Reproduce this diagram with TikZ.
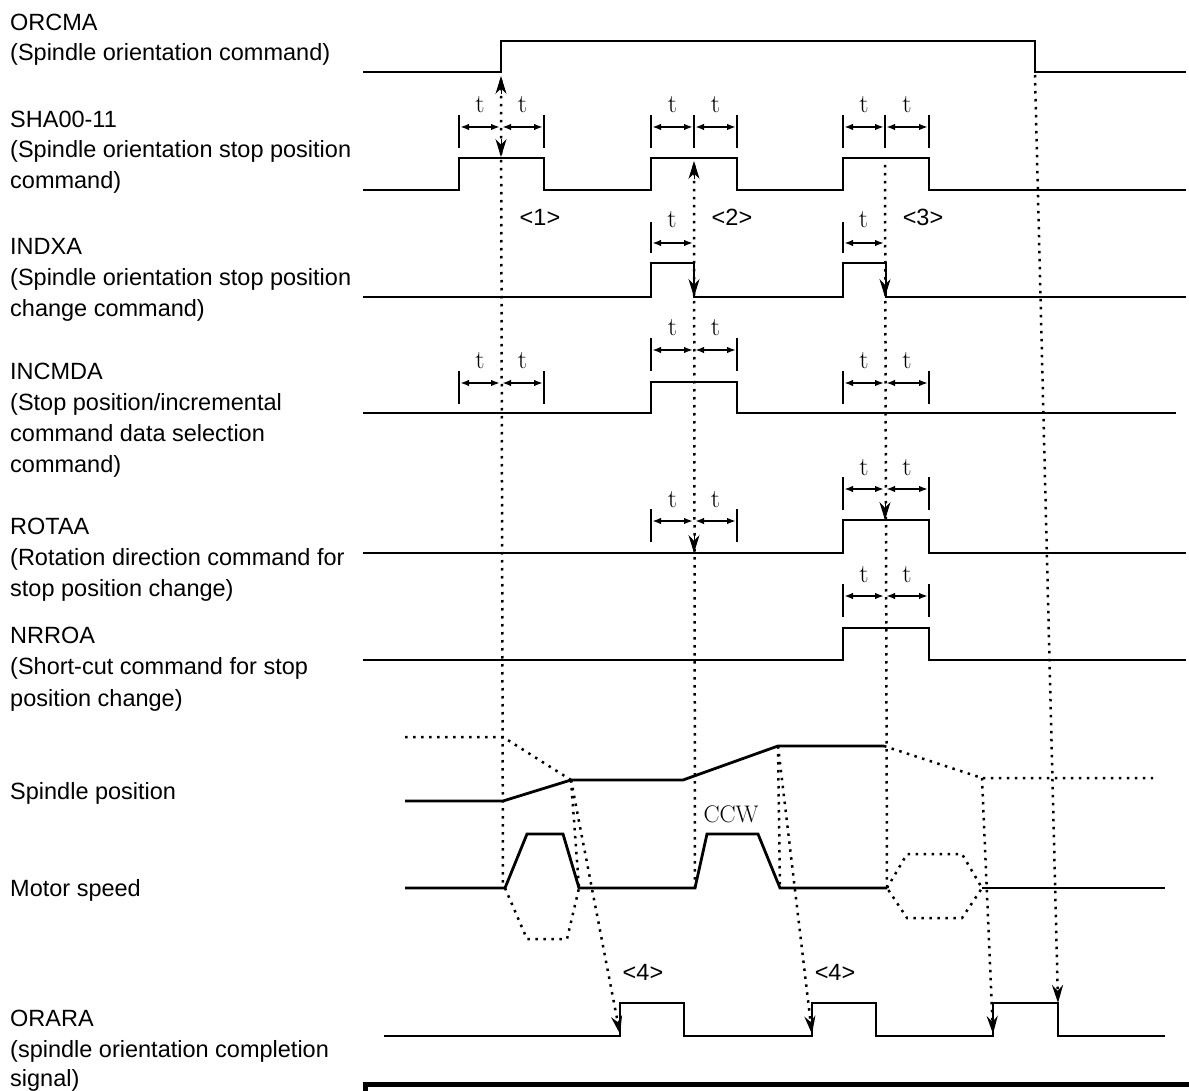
\documentclass[tikz,border=0pt]{standalone}
\usepackage{fontspec}
\newfontfamily\labfont{Liberation Sans}
\usetikzlibrary{arrows.meta}
\newcommand\tpair[6]{% left, mid, right, arrow y, midtick, name
  \draw[tickln] (#1,#4-12) -- (#1,#4+21);
  \draw[tickln] (#3,#4-12) -- (#3,#4+21);
  \ifnum#5=1 \draw[tickln] (#2,#4-12) -- (#2,#4+21);\fi
  \draw[dimarr] (#1+1,#4) -- (#2-1,#4);
  \draw[dimarr] (#2+1,#4) -- (#3-1,#4);
  \node[tlab] (#6a) at ({(#1+#2)/2},#4-14) {t};
  \node[tlab] (#6b) at ({(#2+#3)/2},#4-14) {t};
}
\newcommand\tsingle[4]{% left, right, arrow y, name
  \draw[tickln] (#1,#3-21) -- (#1,#3+10);
  \draw[dimarr] (#1+1,#3) -- (#2,#3);
  \node[tlab] (#4) at ({(#1+#2)/2},#3-15) {t};
}
\newcommand\tipdown[3]{\draw[tipd] (#1,#2-18) -- (#1,#2);}
\newcommand\tipup[2]{\draw[tipd] (#1,#2+18) -- (#1,#2);}
\begin{document}
\begin{tikzpicture}[x=1pt,y=-1pt,
  sig/.style={line width=2.8pt, line join=miter, line cap=butt},
  dots/.style={line width=2.5pt, dash pattern=on 2.5pt off 5.5pt},
  tickln/.style={line width=2.8pt},
  dimarr/.style={line width=2pt, {Latex[length=9pt,width=6.5pt]}-{Latex[length=9pt,width=6.5pt]}},
  tipd/.style={line width=1pt, -{Stealth[length=18pt,width=11pt]}},
  arrend/.style={-{Stealth[length=18pt,width=11pt]}},
  lab/.style={font=\labfont\fontsize{23.5}{28}\selectfont, anchor=base west, inner sep=0pt},
  tlab/.style={font=\fontsize{26}{26}\selectfont, anchor=base, inner sep=0pt},
  num/.style={font=\labfont\fontsize{23.5}{28}\selectfont, anchor=base, inner sep=0pt},
  ccw/.style={font=\fontsize{24}{24}\selectfont, anchor=base, inner sep=0pt},
]
\useasboundingbox (0,0) rectangle (1189,1091);

% ---------- labels ----------
\node[lab] (l1a) at (10,31) {ORCMA};
\node[lab] (l1b) at (10,61) {(Spindle orientation command)};
\node[lab] (l2a) at (10,127.5) {SHA00-11};
\node[lab] (l2b) at (10,158) {(Spindle orientation stop position};
\node[lab] (l2c) at (10,188.5) {command)};
\node[lab] (l3a) at (10,255) {INDXA};
\node[lab] (l3b) at (10,286) {(Spindle orientation stop position};
\node[lab] (l3c) at (10,317) {change command)};
\node[lab] (l4a) at (10,379) {INCMDA};
\node[lab] (l4b) at (10,410) {(Stop position/incremental};
\node[lab] (l4c) at (10,441) {command data selection};
\node[lab] (l4d) at (10,472) {command)};
\node[lab] (l5a) at (10,534) {ROTAA};
\node[lab] (l5b) at (10,565) {(Rotation direction command for};
\node[lab] (l5c) at (10,596) {stop position change)};
\node[lab] (l6a) at (10,643) {NRROA};
\node[lab] (l6b) at (10,674) {(Short-cut command for stop};
\node[lab] (l6c) at (10,706) {position change)};
\node[lab] (l7) at (10,799) {Spindle position};
\node[lab] (l8) at (10,896) {Motor speed};
\node[lab] (l9a) at (10,1026) {ORARA};
\node[lab] (l9b) at (10,1057) {(spindle orientation completion};
\node[lab] (l9c) at (10,1086) {signal)};

% ---------- signals ----------
\draw[sig] (363,72) -- (501,72) -- (501,41) -- (1035,41) -- (1035,72) -- (1186,72);
\draw[sig] (363,190) -| (459,158) -| (544,190) -| (651,158) -| (737,190) -| (843,158) -| (929,190) -- (1186,190);
\draw[sig] (363,297) -| (651,263) -| (694,297) -| (843,263) -| (886,297) -- (1186,297);
\draw[sig] (363,413) -| (651,382) -| (737,413) -- (1176,413);
\draw[sig] (363,553) -| (843,520) -| (929,553) -- (1186,553);
\draw[sig] (363,660) -| (843,628) -| (929,660) -- (1186,660);
\draw[sig] (384,1036) -| (620,1003) -| (684,1036) -| (812,1003) -| (876,1036) -| (993,1003) -| (1058,1036) -- (1165,1036);

% spindle position
\draw[sig] (405,801) -- (503,801) -- (571,780) -- (683,780) -- (778,746) -- (884,746);
\draw[dots] (405,737) -- (503,737) -- (571,780);
\draw[dots] (884,746) -- (982,778) -- (1153,778);
% motor speed
\draw[sig] (405,888) -- (505,888) -- (527,834) -- (563,834) -- (579,888) -- (695,888) -- (707,834) -- (758,834) -- (780,888) -- (887,888);
\draw[sig] (982,888) -- (1165,888);
\draw[dots] (505,888) -- (527,939) -- (567,939) -- (579,888);
\draw[dots] (887,888) -- (907,854) -- (962,854) -- (982,888) -- (962,918) -- (907,918) -- cycle;
\node[ccw] (ccw) at (731,822) {CCW};

% ---------- timing dimensions ----------
\tpair{459}{501}{544}{127}{0}{ta}
\tpair{651}{694}{737}{127}{1}{tb}
\tpair{843}{885}{929}{127}{1}{tc}
\tsingle{651}{693}{243}{td}
\tsingle{843}{884}{243}{te}
\tpair{459}{501}{544}{383}{0}{tf}
\tpair{651}{694}{737}{350}{0}{tg}
\tpair{843}{885}{929}{383}{0}{th}
\tpair{651}{694}{737}{521}{0}{ti}
\tpair{843}{885}{929}{489}{0}{tj}
\tpair{843}{885}{929}{596}{0}{tk}

\node[num] (n1) at (540,226) {<1>};
\node[num] (n2) at (732,226) {<2>};
\node[num] (n3) at (923,226) {<3>};
\node[num] (n4a) at (643,980) {<4>};
\node[num] (n4b) at (835,980) {<4>};

% ---------- dotted relation lines ----------
\draw[dots] (501,80) -- (503,888);
\draw[dots] (694,165) -- (695,888);
\draw[dots] (885,165) -- (887,888);
\draw[dots, arrend] (1035,75) -- (1058,1003);
\draw[dots] (571,780) -- (579,888);
\draw[dots] (778,746) -- (780,888);
\draw[dots, arrend] (571,780) -- (620,1034);
\draw[dots, arrend] (778,746) -- (812,1034);
\draw[dots, arrend] (982,778) -- (993,1034);

\tipup{501}{76}
\tipdown{501}{157}
\tipdown{502}{413}
\tipup{694}{161}
\tipdown{694}{297}
\tipdown{694}{382}
\tipdown{694}{553}
\tipup{885}{161}
\tipdown{885}{297}
\tipdown{885}{413}
\tipdown{885}{520}
\tipdown{886}{628}

% ---------- bottom frame ----------
\draw[line width=5pt, line join=miter] (365.5,1095) -- (365.5,1084) -- (1195,1084);
\end{tikzpicture}
\end{document}
